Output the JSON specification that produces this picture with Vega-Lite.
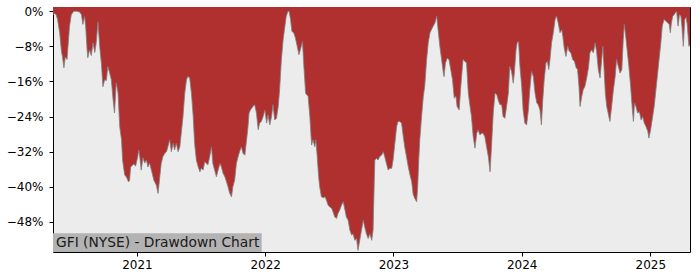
{
  "$schema": "https://vega.github.io/schema/vega-lite/v6.json",
  "autosize": {"type": "none"},
  "padding": {"left": 53, "top": 7, "right": 10, "bottom": 28},
  "width": 637,
  "height": 245,
  "background": "white",
  "config": {
    "view": {"fill": "#ececec", "stroke": "black", "strokeWidth": 1},
    "axis": {"labelFont": "DejaVu Sans", "labelFontSize": 12, "labelColor": "black", "tickColor": "black", "domain": false, "grid": false, "title": null}
  },
  "datasets": {
    "dd": [
      {"date":"2020-05-07","drawdown":-0.008},{"date":"2020-05-12","drawdown":-0.005},{"date":"2020-05-16","drawdown":-0.008},{"date":"2020-05-20","drawdown":-0.019},{"date":"2020-05-26","drawdown":-0.049},{"date":"2020-05-31","drawdown":-0.092},{"date":"2020-06-03","drawdown":-0.104},{"date":"2020-06-07","drawdown":-0.129},{"date":"2020-06-11","drawdown":-0.104},{"date":"2020-06-16","drawdown":-0.110},{"date":"2020-06-18","drawdown":-0.088},{"date":"2020-06-23","drawdown":-0.035},{"date":"2020-06-28","drawdown":-0.008},{"date":"2020-07-05","drawdown":0},{"date":"2020-07-13","drawdown":0},{"date":"2020-07-22","drawdown":-0.002},{"date":"2020-07-27","drawdown":-0.008},{"date":"2020-07-31","drawdown":-0.030},{"date":"2020-08-05","drawdown":-0.012},{"date":"2020-08-08","drawdown":-0.035},{"date":"2020-08-12","drawdown":-0.088},{"date":"2020-08-14","drawdown":-0.106},{"date":"2020-08-19","drawdown":-0.088},{"date":"2020-08-24","drawdown":-0.101},{"date":"2020-08-29","drawdown":-0.072},{"date":"2020-09-03","drawdown":-0.094},{"date":"2020-09-07","drawdown":-0.072},{"date":"2020-09-12","drawdown":-0.024},{"date":"2020-09-17","drawdown":-0.081},{"date":"2020-09-22","drawdown":-0.122},{"date":"2020-09-26","drawdown":-0.172},{"date":"2020-10-01","drawdown":-0.156},{"date":"2020-10-06","drawdown":-0.158},{"date":"2020-10-10","drawdown":-0.126},{"date":"2020-10-15","drawdown":-0.140},{"date":"2020-10-20","drawdown":-0.156},{"date":"2020-10-25","drawdown":-0.202},{"date":"2020-10-29","drawdown":-0.232},{"date":"2020-11-03","drawdown":-0.163},{"date":"2020-11-08","drawdown":-0.186},{"date":"2020-11-13","drawdown":-0.264},{"date":"2020-11-18","drawdown":-0.293},{"date":"2020-11-21","drawdown":-0.339},{"date":"2020-11-27","drawdown":-0.373},{"date":"2020-12-02","drawdown":-0.378},{"date":"2020-12-08","drawdown":-0.389},{"date":"2020-12-11","drawdown":-0.385},{"date":"2020-12-14","drawdown":-0.355},{"date":"2020-12-23","drawdown":-0.348},{"date":"2020-12-28","drawdown":-0.353},
      {"date":"2021-01-03","drawdown":-0.332},{"date":"2021-01-06","drawdown":-0.316},{"date":"2021-01-09","drawdown":-0.332},{"date":"2021-01-13","drawdown":-0.362},{"date":"2021-01-18","drawdown":-0.334},{"date":"2021-01-23","drawdown":-0.346},{"date":"2021-01-28","drawdown":-0.339},{"date":"2021-02-01","drawdown":-0.355},{"date":"2021-02-06","drawdown":-0.346},{"date":"2021-02-11","drawdown":-0.362},{"date":"2021-02-18","drawdown":-0.385},{"date":"2021-02-25","drawdown":-0.396},{"date":"2021-03-02","drawdown":-0.415},{"date":"2021-03-07","drawdown":-0.377},{"date":"2021-03-11","drawdown":-0.347},{"date":"2021-03-16","drawdown":-0.331},{"date":"2021-03-21","drawdown":-0.324},{"date":"2021-03-26","drawdown":-0.320},{"date":"2021-03-30","drawdown":-0.309},{"date":"2021-04-04","drawdown":-0.293},{"date":"2021-04-09","drawdown":-0.320},{"date":"2021-04-14","drawdown":-0.301},{"date":"2021-04-18","drawdown":-0.316},{"date":"2021-04-23","drawdown":-0.301},{"date":"2021-04-28","drawdown":-0.320},{"date":"2021-05-03","drawdown":-0.309},{"date":"2021-05-07","drawdown":-0.278},{"date":"2021-05-12","drawdown":-0.240},{"date":"2021-05-17","drawdown":-0.187},{"date":"2021-05-22","drawdown":-0.156},{"date":"2021-05-26","drawdown":-0.149},{"date":"2021-05-31","drawdown":-0.152},{"date":"2021-06-05","drawdown":-0.187},{"date":"2021-06-10","drawdown":-0.240},{"date":"2021-06-14","drawdown":-0.301},{"date":"2021-06-19","drawdown":-0.339},{"date":"2021-06-24","drawdown":-0.354},{"date":"2021-06-29","drawdown":-0.366},{"date":"2021-07-03","drawdown":-0.358},{"date":"2021-07-08","drawdown":-0.362},{"date":"2021-07-13","drawdown":-0.343},{"date":"2021-07-18","drawdown":-0.347},{"date":"2021-07-22","drawdown":-0.350},{"date":"2021-07-27","drawdown":-0.331},{"date":"2021-08-01","drawdown":-0.309},{"date":"2021-08-05","drawdown":-0.347},{"date":"2021-08-10","drawdown":-0.362},{"date":"2021-08-15","drawdown":-0.377},{"date":"2021-08-20","drawdown":-0.362},{"date":"2021-08-25","drawdown":-0.347},{"date":"2021-08-29","drawdown":-0.354},{"date":"2021-09-03","drawdown":-0.369},{"date":"2021-09-08","drawdown":-0.377},{"date":"2021-09-13","drawdown":-0.389},{"date":"2021-09-17","drawdown":-0.400},{"date":"2021-09-22","drawdown":-0.415},{"date":"2021-09-27","drawdown":-0.423},{"date":"2021-10-01","drawdown":-0.400},{"date":"2021-10-06","drawdown":-0.385},{"date":"2021-10-11","drawdown":-0.347},{"date":"2021-10-16","drawdown":-0.331},{"date":"2021-10-20","drawdown":-0.320},{"date":"2021-10-25","drawdown":-0.309},{"date":"2021-10-30","drawdown":-0.324},{"date":"2021-11-04","drawdown":-0.328},{"date":"2021-11-09","drawdown":-0.293},{"date":"2021-11-13","drawdown":-0.263},{"date":"2021-11-16","drawdown":-0.232},{"date":"2021-11-20","drawdown":-0.225},{"date":"2021-11-27","drawdown":-0.217},{"date":"2021-12-02","drawdown":-0.213},{"date":"2021-12-07","drawdown":-0.232},{"date":"2021-12-12","drawdown":-0.270},{"date":"2021-12-16","drawdown":-0.255},{"date":"2021-12-21","drawdown":-0.251},{"date":"2021-12-26","drawdown":-0.240},{"date":"2021-12-31","drawdown":-0.225},
      {"date":"2022-01-05","drawdown":-0.255},{"date":"2022-01-09","drawdown":-0.236},{"date":"2022-01-14","drawdown":-0.259},{"date":"2022-01-19","drawdown":-0.240},{"date":"2022-01-23","drawdown":-0.213},{"date":"2022-01-28","drawdown":-0.248},{"date":"2022-02-02","drawdown":-0.244},{"date":"2022-02-07","drawdown":-0.217},{"date":"2022-02-11","drawdown":-0.179},{"date":"2022-02-16","drawdown":-0.110},{"date":"2022-02-21","drawdown":-0.065},{"date":"2022-02-26","drawdown":-0.034},{"date":"2022-03-02","drawdown":-0.011},{"date":"2022-03-07","drawdown":0},{"date":"2022-03-10","drawdown":0},{"date":"2022-03-14","drawdown":-0.019},{"date":"2022-03-18","drawdown":-0.046},{"date":"2022-03-23","drawdown":-0.049},{"date":"2022-03-28","drawdown":-0.061},{"date":"2022-04-02","drawdown":-0.080},{"date":"2022-04-07","drawdown":-0.099},{"date":"2022-04-11","drawdown":-0.088},{"date":"2022-04-17","drawdown":-0.069},{"date":"2022-04-21","drawdown":-0.126},{"date":"2022-04-26","drawdown":-0.187},{"date":"2022-05-03","drawdown":-0.194},{"date":"2022-05-08","drawdown":-0.240},{"date":"2022-05-13","drawdown":-0.305},{"date":"2022-05-17","drawdown":-0.293},{"date":"2022-05-22","drawdown":-0.309},{"date":"2022-05-25","drawdown":-0.293},{"date":"2022-05-29","drawdown":-0.331},{"date":"2022-06-02","drawdown":-0.377},{"date":"2022-06-05","drawdown":-0.400},{"date":"2022-06-10","drawdown":-0.423},{"date":"2022-06-15","drawdown":-0.425},{"date":"2022-06-20","drawdown":-0.423},{"date":"2022-06-24","drawdown":-0.430},{"date":"2022-06-29","drawdown":-0.442},{"date":"2022-07-04","drawdown":-0.446},{"date":"2022-07-09","drawdown":-0.449},{"date":"2022-07-13","drawdown":-0.457},{"date":"2022-07-18","drawdown":-0.469},{"date":"2022-07-23","drawdown":-0.472},{"date":"2022-07-27","drawdown":-0.461},{"date":"2022-08-01","drawdown":-0.453},{"date":"2022-08-06","drawdown":-0.442},{"date":"2022-08-11","drawdown":-0.434},{"date":"2022-08-16","drawdown":-0.453},{"date":"2022-08-20","drawdown":-0.469},{"date":"2022-08-25","drawdown":-0.476},{"date":"2022-08-30","drawdown":-0.499},{"date":"2022-09-04","drawdown":-0.510},{"date":"2022-09-08","drawdown":-0.507},{"date":"2022-09-13","drawdown":-0.522},{"date":"2022-09-18","drawdown":-0.518},{"date":"2022-09-22","drawdown":-0.545},{"date":"2022-09-27","drawdown":-0.522},{"date":"2022-10-02","drawdown":-0.499},{"date":"2022-10-07","drawdown":-0.476},{"date":"2022-10-11","drawdown":-0.491},{"date":"2022-10-16","drawdown":-0.507},{"date":"2022-10-21","drawdown":-0.518},{"date":"2022-10-26","drawdown":-0.507},{"date":"2022-10-31","drawdown":-0.522},{"date":"2022-11-04","drawdown":-0.499},{"date":"2022-11-07","drawdown":-0.400},{"date":"2022-11-09","drawdown":-0.339},{"date":"2022-11-14","drawdown":-0.335},{"date":"2022-11-18","drawdown":-0.339},{"date":"2022-11-23","drawdown":-0.331},{"date":"2022-11-28","drawdown":-0.328},{"date":"2022-12-03","drawdown":-0.320},{"date":"2022-12-07","drawdown":-0.331},{"date":"2022-12-12","drawdown":-0.347},{"date":"2022-12-17","drawdown":-0.362},{"date":"2022-12-22","drawdown":-0.358},{"date":"2022-12-27","drawdown":-0.358},{"date":"2022-12-31","drawdown":-0.339},
      {"date":"2023-01-05","drawdown":-0.301},{"date":"2023-01-10","drawdown":-0.263},{"date":"2023-01-14","drawdown":-0.251},{"date":"2023-01-19","drawdown":-0.251},{"date":"2023-01-24","drawdown":-0.255},{"date":"2023-01-29","drawdown":-0.286},{"date":"2023-02-02","drawdown":-0.309},{"date":"2023-02-07","drawdown":-0.331},{"date":"2023-02-12","drawdown":-0.354},{"date":"2023-02-17","drawdown":-0.373},{"date":"2023-02-22","drawdown":-0.389},{"date":"2023-02-26","drawdown":-0.417},{"date":"2023-03-03","drawdown":-0.427},{"date":"2023-03-08","drawdown":-0.434},{"date":"2023-03-11","drawdown":-0.400},{"date":"2023-03-14","drawdown":-0.339},{"date":"2023-03-17","drawdown":-0.293},{"date":"2023-03-22","drawdown":-0.240},{"date":"2023-03-27","drawdown":-0.194},{"date":"2023-03-31","drawdown":-0.171},{"date":"2023-04-05","drawdown":-0.114},{"date":"2023-04-10","drawdown":-0.072},{"date":"2023-04-15","drawdown":-0.049},{"date":"2023-04-19","drawdown":-0.042},{"date":"2023-04-24","drawdown":-0.034},{"date":"2023-04-29","drawdown":-0.027},{"date":"2023-05-04","drawdown":-0.011},{"date":"2023-05-08","drawdown":-0.042},{"date":"2023-05-13","drawdown":-0.080},{"date":"2023-05-18","drawdown":-0.110},{"date":"2023-05-23","drawdown":-0.141},{"date":"2023-05-25","drawdown":-0.149},{"date":"2023-05-29","drawdown":-0.118},{"date":"2023-06-03","drawdown":-0.107},{"date":"2023-06-08","drawdown":-0.110},{"date":"2023-06-13","drawdown":-0.133},{"date":"2023-06-18","drawdown":-0.156},{"date":"2023-06-23","drawdown":-0.198},{"date":"2023-06-28","drawdown":-0.194},{"date":"2023-07-01","drawdown":-0.217},{"date":"2023-07-07","drawdown":-0.225},{"date":"2023-07-11","drawdown":-0.179},{"date":"2023-07-14","drawdown":-0.149},{"date":"2023-07-18","drawdown":-0.110},{"date":"2023-07-23","drawdown":-0.114},{"date":"2023-07-28","drawdown":-0.118},{"date":"2023-08-02","drawdown":-0.187},{"date":"2023-08-07","drawdown":-0.217},{"date":"2023-08-11","drawdown":-0.240},{"date":"2023-08-16","drawdown":-0.286},{"date":"2023-08-21","drawdown":-0.312},{"date":"2023-08-26","drawdown":-0.278},{"date":"2023-08-30","drawdown":-0.270},{"date":"2023-09-04","drawdown":-0.282},{"date":"2023-09-09","drawdown":-0.278},{"date":"2023-09-13","drawdown":-0.278},{"date":"2023-09-18","drawdown":-0.286},{"date":"2023-09-23","drawdown":-0.309},{"date":"2023-09-28","drawdown":-0.331},{"date":"2023-10-03","drawdown":-0.366},{"date":"2023-10-07","drawdown":-0.309},{"date":"2023-10-12","drawdown":-0.232},{"date":"2023-10-17","drawdown":-0.187},{"date":"2023-10-22","drawdown":-0.190},{"date":"2023-10-26","drawdown":-0.202},{"date":"2023-10-31","drawdown":-0.213},{"date":"2023-11-05","drawdown":-0.213},{"date":"2023-11-09","drawdown":-0.240},{"date":"2023-11-14","drawdown":-0.244},{"date":"2023-11-19","drawdown":-0.217},{"date":"2023-11-24","drawdown":-0.187},{"date":"2023-11-28","drawdown":-0.126},{"date":"2023-12-03","drawdown":-0.137},{"date":"2023-12-08","drawdown":-0.164},{"date":"2023-12-11","drawdown":-0.141},{"date":"2023-12-16","drawdown":-0.088},{"date":"2023-12-19","drawdown":-0.072},{"date":"2023-12-23","drawdown":-0.069},{"date":"2023-12-27","drawdown":-0.126},
      {"date":"2024-01-01","drawdown":-0.171},{"date":"2024-01-05","drawdown":-0.225},{"date":"2024-01-10","drawdown":-0.255},{"date":"2024-01-15","drawdown":-0.259},{"date":"2024-01-20","drawdown":-0.225},{"date":"2024-01-24","drawdown":-0.179},{"date":"2024-01-29","drawdown":-0.137},{"date":"2024-02-03","drawdown":-0.149},{"date":"2024-02-08","drawdown":-0.187},{"date":"2024-02-13","drawdown":-0.209},{"date":"2024-02-17","drawdown":-0.213},{"date":"2024-02-22","drawdown":-0.225},{"date":"2024-02-26","drawdown":-0.259},{"date":"2024-03-01","drawdown":-0.202},{"date":"2024-03-05","drawdown":-0.156},{"date":"2024-03-10","drawdown":-0.118},{"date":"2024-03-14","drawdown":-0.114},{"date":"2024-03-18","drawdown":-0.133},{"date":"2024-03-21","drawdown":-0.114},{"date":"2024-03-26","drawdown":-0.072},{"date":"2024-03-31","drawdown":-0.049},{"date":"2024-04-05","drawdown":-0.019},{"date":"2024-04-09","drawdown":-0.011},{"date":"2024-04-14","drawdown":-0.027},{"date":"2024-04-19","drawdown":-0.049},{"date":"2024-04-24","drawdown":-0.042},{"date":"2024-04-27","drawdown":-0.057},{"date":"2024-05-01","drawdown":-0.084},{"date":"2024-05-06","drawdown":-0.103},{"date":"2024-05-11","drawdown":-0.080},{"date":"2024-05-15","drawdown":-0.091},{"date":"2024-05-20","drawdown":-0.095},{"date":"2024-05-25","drawdown":-0.110},{"date":"2024-05-30","drawdown":-0.114},{"date":"2024-06-04","drawdown":-0.129},{"date":"2024-06-08","drawdown":-0.133},{"date":"2024-06-12","drawdown":-0.171},{"date":"2024-06-15","drawdown":-0.217},{"date":"2024-06-20","drawdown":-0.194},{"date":"2024-06-24","drawdown":-0.179},{"date":"2024-06-29","drawdown":-0.171},{"date":"2024-07-04","drawdown":-0.152},{"date":"2024-07-09","drawdown":-0.129},{"date":"2024-07-13","drawdown":-0.095},{"date":"2024-07-18","drawdown":-0.088},{"date":"2024-07-23","drawdown":-0.095},{"date":"2024-07-28","drawdown":-0.072},{"date":"2024-08-01","drawdown":-0.091},{"date":"2024-08-06","drawdown":-0.133},{"date":"2024-08-11","drawdown":-0.152},{"date":"2024-08-16","drawdown":-0.107},{"date":"2024-08-19","drawdown":-0.080},{"date":"2024-08-22","drawdown":-0.126},{"date":"2024-08-26","drawdown":-0.187},{"date":"2024-08-30","drawdown":-0.217},{"date":"2024-09-03","drawdown":-0.232},{"date":"2024-09-08","drawdown":-0.251},{"date":"2024-09-13","drawdown":-0.217},{"date":"2024-09-18","drawdown":-0.179},{"date":"2024-09-23","drawdown":-0.149},{"date":"2024-09-27","drawdown":-0.110},{"date":"2024-10-02","drawdown":-0.126},{"date":"2024-10-07","drawdown":-0.141},{"date":"2024-10-12","drawdown":-0.133},{"date":"2024-10-16","drawdown":-0.065},{"date":"2024-10-19","drawdown":-0.030},{"date":"2024-10-23","drawdown":-0.057},{"date":"2024-10-28","drawdown":-0.095},{"date":"2024-11-01","drawdown":-0.126},{"date":"2024-11-06","drawdown":-0.171},{"date":"2024-11-11","drawdown":-0.225},{"date":"2024-11-14","drawdown":-0.251},{"date":"2024-11-17","drawdown":-0.209},{"date":"2024-11-21","drawdown":-0.217},{"date":"2024-11-26","drawdown":-0.232},{"date":"2024-12-01","drawdown":-0.229},{"date":"2024-12-06","drawdown":-0.248},{"date":"2024-12-10","drawdown":-0.240},{"date":"2024-12-15","drawdown":-0.255},{"date":"2024-12-20","drawdown":-0.263},{"date":"2024-12-25","drawdown":-0.274},{"date":"2024-12-28","drawdown":-0.289},
      {"date":"2025-01-02","drawdown":-0.270},{"date":"2025-01-07","drawdown":-0.244},{"date":"2025-01-12","drawdown":-0.217},{"date":"2025-01-16","drawdown":-0.187},{"date":"2025-01-21","drawdown":-0.149},{"date":"2025-01-26","drawdown":-0.110},{"date":"2025-01-31","drawdown":-0.072},{"date":"2025-02-04","drawdown":-0.034},{"date":"2025-02-09","drawdown":-0.019},{"date":"2025-02-15","drawdown":-0.023},{"date":"2025-02-20","drawdown":-0.027},{"date":"2025-02-24","drawdown":-0.030},{"date":"2025-02-27","drawdown":-0.049},{"date":"2025-03-02","drawdown":-0.027},{"date":"2025-03-06","drawdown":-0.011},{"date":"2025-03-10","drawdown":-0.008},{"date":"2025-03-13","drawdown":-0.004},{"date":"2025-03-17","drawdown":0},{"date":"2025-03-21","drawdown":-0.034},{"date":"2025-03-25","drawdown":-0.008},{"date":"2025-03-29","drawdown":-0.011},{"date":"2025-04-01","drawdown":-0.034},{"date":"2025-04-05","drawdown":-0.080},{"date":"2025-04-09","drawdown":-0.019},{"date":"2025-04-13","drawdown":-0.014},{"date":"2025-04-16","drawdown":-0.030},{"date":"2025-04-21","drawdown":-0.080},{"date":"2025-04-24","drawdown":-0.076}
    ],
    "label": [{"text": "GFI (NYSE) - Drawdown Chart"}]
  },
  "layer": [
    {
      "data": {"name": "dd"},
      "mark": {"type": "area", "color": "#b03030", "clip": true},
      "encoding": {
        "x": {"field": "date", "type": "temporal",
              "scale": {"type": "utc", "domain": [{"year": 2020, "month": 5, "date": 7, "utc": true}, {"year": 2025, "month": 4, "date": 24, "utc": true}], "nice": false},
              "axis": {"values": [{"year": 2021, "month": 1, "date": 1, "utc": true}, {"year": 2022, "month": 1, "date": 1, "utc": true}, {"year": 2023, "month": 1, "date": 1, "utc": true}, {"year": 2024, "month": 1, "date": 1, "utc": true}, {"year": 2025, "month": 1, "date": 1, "utc": true}], "format": "%Y", "tickSize": 4, "labelPadding": 3}},
        "y": {"field": "drawdown", "type": "quantitative",
              "scale": {"domain": [-0.5486, 0.0096], "nice": false, "zero": false},
              "axis": {"values": [0, -0.08, -0.16, -0.24, -0.32, -0.4, -0.48], "format": ".0%", "tickSize": 4, "labelPadding": 6}},
        "y2": {"datum": 0.0096}
      }
    },
    {
      "data": {"name": "dd"},
      "mark": {"type": "line", "color": "#808080", "strokeWidth": 1, "opacity": 0.8, "clip": true},
      "encoding": {
        "x": {"field": "date", "type": "temporal"},
        "y": {"field": "drawdown", "type": "quantitative"}
      }
    },
    {
      "data": {"name": "label"},
      "mark": {"type": "rect", "color": "#b3b3b3"},
      "encoding": {
        "x": {"datum": {"year": 2020, "month": 5, "date": 7, "utc": true}, "type": "temporal"},
        "x2": {"datum": {"year": 2021, "month": 12, "date": 22, "utc": true}},
        "y": {"datum": -0.5486, "type": "quantitative"},
        "y2": {"datum": -0.506}
      }
    },
    {
      "data": {"name": "label"},
      "mark": {"type": "text", "align": "left", "baseline": "alphabetic", "font": "DejaVu Sans", "fontSize": 13.8, "color": "#1a1a1a", "dx": 3, "dy": -5},
      "encoding": {
        "x": {"datum": {"year": 2020, "month": 5, "date": 7, "utc": true}, "type": "temporal"},
        "y": {"datum": -0.5486, "type": "quantitative"},
        "text": {"field": "text"}
      }
    }
  ]
}
